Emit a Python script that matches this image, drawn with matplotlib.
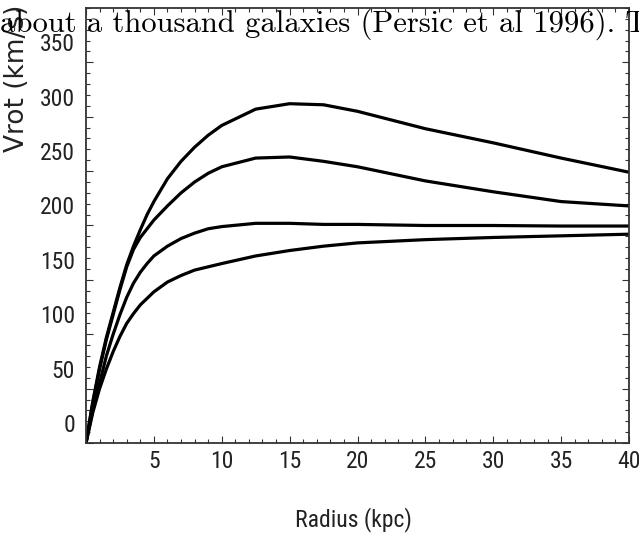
import matplotlib
matplotlib.use("Agg")
import matplotlib.pyplot as plt
from matplotlib import font_manager
from matplotlib.ticker import MultipleLocator
from matplotlib.transforms import ScaledTranslation

# radius (kpc) and rotation velocity (km/s)
radius = [0, 0.5, 1, 1.5, 2, 2.5, 3, 3.5, 4, 4.5, 5, 6, 7, 8, 9, 10,
          12.5, 15, 17.5, 20, 25, 30, 35, 40]
v_a = [0, 38, 70, 97, 120, 143, 164, 181, 196, 210, 222, 243, 259, 272, 283, 292,
       307, 312, 311, 305, 289, 276, 262, 249]
v_b = [0, 37, 68, 95, 118, 141, 162, 178, 189, 197, 205, 218, 230, 240, 248, 254,
       262, 263, 259, 254, 241, 231, 222, 218]
v_c = [0, 30, 55, 80, 100, 118, 134, 147, 157, 165, 172, 181, 188, 193, 197, 199,
       202, 202, 201, 201, 200, 200, 199.5, 199.5]
v_d = [0, 28, 50, 68, 84, 98, 110, 119, 127, 133, 139, 148, 154, 159, 162, 165,
       172, 177, 181, 184, 187, 189, 190.5, 192]

x_ticks = [0, 5, 10, 15, 20, 25, 30, 35, 40]
x_labels = ["", "5", "10", "15", "20", "25", "30", "35", "40"]
y_ticks = [0, 50, 100, 150, 200, 250, 300, 350]

# pick a condensed sans if one is installed
have = {f.name for f in font_manager.fontManager.ttflist}
narrow = "Liberation Sans"
for name in ["Liberation Sans Narrow", "DejaVu Sans Condensed", "Roboto Condensed",
             "Open Sans Condensed", "Noto Sans Condensed", "Arial Narrow"]:
    if name in have:
        narrow = name
        break
narrow = [narrow, "DejaVu Sans"]

fig = plt.figure(figsize=(6.39, 5.38), dpi=100)
ax = fig.add_axes([86 / 639, 95 / 538, 543 / 639, 435 / 538])

for v in (v_a, v_b, v_c, v_d):
    ax.plot(radius, v, color="black", lw=2.3, solid_joinstyle="round")

ax.set_xlim(0, 40)
ax.set_ylim(0, 400)
ax.set_xticks(x_ticks)
ax.set_xticklabels(x_labels)
ax.set_yticks(y_ticks)
ax.xaxis.set_minor_locator(MultipleLocator(1))
ax.yaxis.set_minor_locator(MultipleLocator(10))
ax.tick_params(which="both", direction="in", top=True, right=True, color="#333333", width=0.8)
ax.tick_params(which="major", length=5)
ax.tick_params(which="minor", length=3)
ax.tick_params(axis="x", pad=5)
ax.tick_params(axis="y", pad=8)
for s in ax.spines.values():
    s.set_color("#333333")
    s.set_linewidth(1.3)

for lab in ax.get_xticklabels() + ax.get_yticklabels():
    lab.set_family(narrow)
    lab.set_fontsize(17)
    lab.set_color("#222222")
# y labels sit about 20 px above their ticks in the original
shift = ScaledTranslation(0, 20 / 100, fig.dpi_scale_trans)
for lab in ax.get_yticklabels():
    lab.set_transform(lab.get_transform() + shift)

fig.text(353 / 639, 1 - 520 / 538, "Radius (kpc)", ha="center", va="center",
         family=narrow, fontsize=17, color="#222222")
fig.text(17.5 / 639, 1 - 152 / 538, "Vrot (km/s)", rotation=90, ha="center", va="bottom",
         family="DejaVu Sans", fontsize=19, color="#222222")

# caption text from the page overlapping the top of the figure
fig.text(0, 1 - 32 / 538, "about a thousand galaxies (Persic et al 1996). T",
         ha="left", va="baseline", family="cmr10", fontsize=22.1, color="black")

fig.savefig("out.png", dpi=100)
